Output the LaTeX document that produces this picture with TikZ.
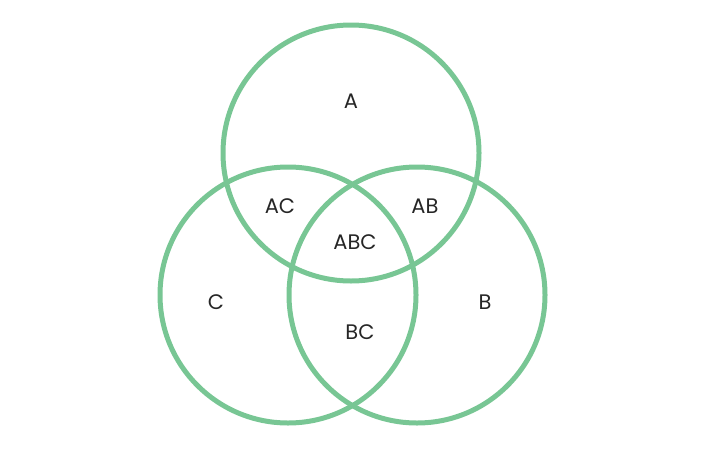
\documentclass[tikz,border=0pt]{standalone}
\usepackage{fontspec}
\setmainfont{Poppins}
\definecolor{vg}{RGB}{120,198,148}
\begin{document}
\begin{tikzpicture}[x=1pt,y=-1pt,
  ring/.style={draw=vg,line width=5pt},
  lab/.style={font=\fontsize{21}{21}\selectfont,text=black!85}]
\useasboundingbox (0,0) rectangle (706,450);
\draw[ring] (351,153) circle (128);
\draw[ring] (288,295) circle (128);
\draw[ring] (417,295) circle (128);
\node[lab] (a) at (351,101) {A};
\node[lab] (ac) at (280,206) {AC};
\node[lab] (ab) at (425,206) {AB};
\node[lab] (abc) at (355,242) {ABC};
\node[lab] (c) at (216,302) {C};
\node[lab] (b) at (485,302) {B};
\node[lab] (bc) at (360,332) {BC};
\end{tikzpicture}
\end{document}
